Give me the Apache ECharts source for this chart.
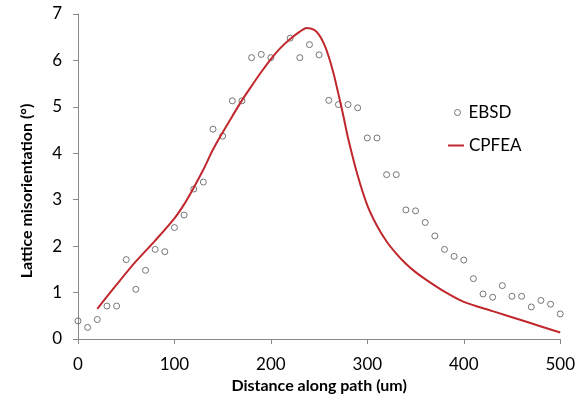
<!DOCTYPE html>
<html>
<head>
<meta charset="utf-8">
<script src="https://cdn.jsdelivr.net/npm/echarts@6/dist/echarts.min.js"></script>
<style>html,body{margin:0;padding:0;background:#fff}#c{width:578px;height:405px}</style>
</head>
<body>
<div id="c"></div>
<script>
const ebsdX = [0,10,20,30,40,50,60,70,80,90,100,110,120,130,140,150,160,170,180,190,200,220,230,240,250,260,270,280,290,300,310,320,330,340,350,360,370,380,390,400,410,420,430,440,450,460,470,480,490,500];
const ebsdY = [0.39,0.25,0.42,0.71,0.71,1.71,1.07,1.48,1.93,1.88,2.40,2.67,3.23,3.38,4.52,4.37,5.13,5.13,6.06,6.13,6.06,6.48,6.06,6.34,6.12,5.14,5.05,5.05,4.98,4.33,4.33,3.54,3.54,2.78,2.76,2.51,2.22,1.93,1.78,1.70,1.30,0.97,0.90,1.15,0.92,0.92,0.69,0.83,0.75,0.54];
const cpfeaX = [20,40,60,80,100,110,120,130,140,150,160,170,180,190,200,210,220,230,237,245,250,255,260,265,270,275,280,290,300,310,320,330,340,350,360,380,400,430,465,500];
const cpfeaY = [0.65,1.17,1.67,2.12,2.60,2.90,3.26,3.65,4.08,4.45,4.80,5.14,5.45,5.75,6.03,6.27,6.46,6.62,6.70,6.66,6.55,6.36,6.08,5.72,5.28,4.82,4.33,3.52,2.88,2.44,2.10,1.84,1.62,1.44,1.29,1.02,0.80,0.60,0.37,0.14];
const xTicks = [0,100,200,300,400,500];
const yTicks = [0,1,2,3,4,5,6,7];

const font = 'Lato, "Open Sans", sans-serif';
const axisColor = '#888888';
const chart = echarts.init(document.getElementById('c'));
chart.setOption({
  animation: false,
  grid: {left: 78, right: 15, top: 14, bottom: 66, containLabel: false},
  xAxis: {
    type: 'value', min: xTicks[0], max: xTicks[xTicks.length-1], interval: 100,
    name: 'Distance along path (um)', nameLocation: 'middle', nameGap: 38,
    nameTextStyle: {fontFamily: font, fontSize: 16, fontWeight: 'bold', color: '#000'},
    axisLine: {show: true, onZero: false, lineStyle: {color: axisColor, width: 1}},
    axisTick: {show: true, length: 5, inside: false, lineStyle: {color: axisColor}},
    axisLabel: {fontFamily: font, fontSize: 17, color: '#000', margin: 17},
    splitLine: {show: false}
  },
  yAxis: {
    type: 'value', min: yTicks[0], max: yTicks[yTicks.length-1], interval: 1,
    axisLine: {show: true, lineStyle: {color: axisColor, width: 1}},
    axisTick: {show: true, length: 5, inside: false, lineStyle: {color: axisColor}},
    axisLabel: {fontFamily: font, fontSize: 17, color: '#000', margin: 16},
    splitLine: {show: false}
  },
  legend: [
    {data: [{name: 'EBSD', icon: 'circle', itemStyle: {color: 'rgba(255,255,255,0)', borderColor: '#555555', borderWidth: 1}}],
     left: 449, top: 99, itemWidth: 6, itemHeight: 6,
     textStyle: {fontFamily: font, fontSize: 17, color: '#000', padding: [0,0,0,3]}},
    {data: [{name: 'CPFEA', icon: 'rect'}], left: 443, top: 132, itemWidth: 16, itemHeight: 2,
     textStyle: {fontFamily: font, fontSize: 17, color: '#000'}}
  ],
  graphic: [{
    type: 'text', x: 27, y: 191, rotation: Math.PI/2,
    style: {text: 'Lattice misorientation (°)', fontFamily: font, fontSize: 16, fontWeight: 'bold', fill: '#000', align: 'center', verticalAlign: 'middle'}
  }],
  series: [
    {name: 'EBSD', type: 'scatter', symbol: 'circle', symbolSize: 6,
     itemStyle: {color: 'rgba(255,255,255,0)', borderColor: '#555555', borderWidth: 1},
     data: ebsdX.map((x, i) => [x, ebsdY[i]]), z: 2},
    {name: 'CPFEA', type: 'line', smooth: 0.3, showSymbol: false, symbol: 'none',
     lineStyle: {color: '#c0282d', width: 2}, itemStyle: {color: '#c0282d'},
     data: cpfeaX.map((x, i) => [x, cpfeaY[i]]), z: 3}
  ]
});
</script>
</body>
</html>
